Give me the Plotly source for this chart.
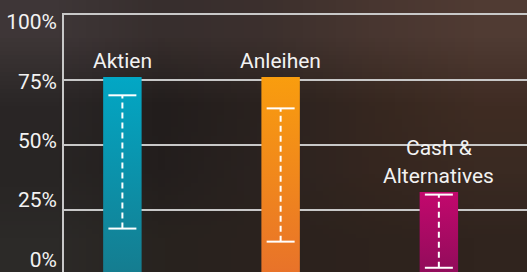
import base64
import struct
import zlib
import plotly.graph_objects as go

# ---------------- data ----------------
categories = ["Aktien", "Anleihen", "Cash & Alternatives"]
label_lines = [["Aktien"], ["Anleihen"], ["Cash &", "Alternatives"]]
allocation = [76, 76, 32]
range_low = [18, 13, 3]
range_high = [69, 64, 31]
tick_values = [0, 25, 50, 75, 100]
tick_labels = ["0%", "25%", "50%", "75%", "100%"]

# ---------------- style ----------------
W, H = 527, 272
ML, MR, MT, MB = 64, 0, 13, 0
FONT = "Roboto"
FSIZE = 21
TEXT_COL = "#f2f2f2"
GRID_COL = "#c8c8c8"
bar_grad = [("#157c8f", "#02a7c5"), ("#e8722a", "#f99d0e"), ("#8f0c5a", "#c3086d")]
BAR_HALF = 0.1215
CAP_SIZE = 20
LINE_GAP = 28

# background texture (small image, stretched smoothly)
bg_rows = [
    ["#3e3637", "#372e2d", "#3c302d", "#483630", "#503b33"],
    ["#2a2626", "#221d1c", "#2a221f", "#36271f", "#3f2c23"],
    ["#282524", "#231e1d", "#2b2320", "#35261f", "#3a2a22"],
    ["#2c2a28", "#28231f", "#2b221e", "#2e231d", "#30241e"],
]


def hex_rgb(h):
    h = h.lstrip("#")
    return bytes(int(h[i:i + 2], 16) for i in (0, 2, 4))


def make_png(rows):
    h = len(rows)
    w = len(rows[0])
    raw = b"".join(b"\x00" + b"".join(hex_rgb(c) for c in row) for row in rows)

    def chunk(t, d):
        c = struct.pack(">I", len(d)) + t + d
        return c + struct.pack(">I", zlib.crc32(t + d) & 0xFFFFFFFF)

    data = b"\x89PNG\r\n\x1a\n"
    data += chunk(b"IHDR", struct.pack(">IIBBBBB", w, h, 8, 2, 0, 0, 0))
    data += chunk(b"IDAT", zlib.compress(raw))
    data += chunk(b"IEND", b"")
    return "data:image/png;base64," + base64.b64encode(data).decode()


positions = list(range(len(categories)))
fig = go.Figure()

# bars with vertical gradient
for i, (p, v) in enumerate(zip(positions, allocation)):
    bottom, top = bar_grad[i]
    fig.add_trace(go.Scatter(
        x=[p - BAR_HALF, p + BAR_HALF], y=[v, v],
        mode="none", fill="tozeroy",
        fillgradient=dict(type="vertical", colorscale=[[0, bottom], [1, top]]),
        hoverinfo="skip", showlegend=False, name=categories[i],
    ))

# dashed range lines + caps
for p, lo, hi in zip(positions, range_low, range_high):
    fig.add_trace(go.Scatter(
        x=[p, p], y=[lo, hi], mode="lines",
        line=dict(color="white", width=2, dash="6px,4px"),
        hoverinfo="skip", showlegend=False,
    ))
fig.add_trace(go.Scatter(
    x=positions + positions, y=range_low + range_high, mode="markers",
    marker=dict(symbol="line-ew", size=CAP_SIZE, line=dict(color="white", width=2)),
    hoverinfo="skip", showlegend=False,
))

# invisible trace carrying the label axis
fig.add_trace(go.Scatter(
    x=positions, y=allocation, yaxis="y2", mode="markers",
    marker=dict(opacity=0), hoverinfo="skip", showlegend=False,
))

# bar labels
for p, v, lines in zip(positions, allocation, label_lines):
    n = len(lines)
    for j, t in enumerate(lines):
        fig.add_annotation(
            x=p, y=v, xref="x", yref="y", text=t, showarrow=False,
            yanchor="bottom", xanchor="center",
            yshift=2 + (n - 1 - j) * LINE_GAP,
            font=dict(family=FONT, size=FSIZE, color=TEXT_COL),
        )

plot_w = W - ML - MR
plot_h = H - MT - MB

fig.update_layout(
    width=W, height=H, autosize=False,
    margin=dict(l=ML, r=MR, t=MT, b=MB, pad=0, autoexpand=False),
    paper_bgcolor="#2a2321",
    plot_bgcolor="rgba(0,0,0,0)",
    xaxis=dict(range=[-0.369, 2.557], visible=False, fixedrange=True,
               automargin=False),
    yaxis=dict(
        range=[1.38, 100.5], tickvals=tick_values[1:], showticklabels=False,
        ticks="", showgrid=True, gridcolor=GRID_COL, gridwidth=2,
        zeroline=False, showline=True, linecolor=GRID_COL, linewidth=2,
        fixedrange=True, automargin=False,
    ),
    yaxis2=dict(
        range=[-5.26, 103.66], overlaying="y", side="left",
        tickvals=tick_values, ticktext=tick_labels, ticks="",
        showgrid=False, zeroline=False, showline=False,
        ticklabelstandoff=6, automargin=False, ticklabeloverflow="allow",
        tickfont=dict(family=FONT, size=FSIZE, color=TEXT_COL),
        fixedrange=True,
    ),
    images=[dict(
        source=make_png(bg_rows), xref="paper", yref="paper",
        x=-ML / plot_w, y=(plot_h + MB + MT) / plot_h - MB / plot_h,
        sizex=W / plot_w, sizey=H / plot_h,
        xanchor="left", yanchor="top", sizing="stretch", layer="below",
    )],
    showlegend=False,
)

fig.write_html(
    "out.html",
    config={"displayModeBar": False},
    post_script="document.body.style.margin='0px';document.body.style.overflow='hidden';",
)
